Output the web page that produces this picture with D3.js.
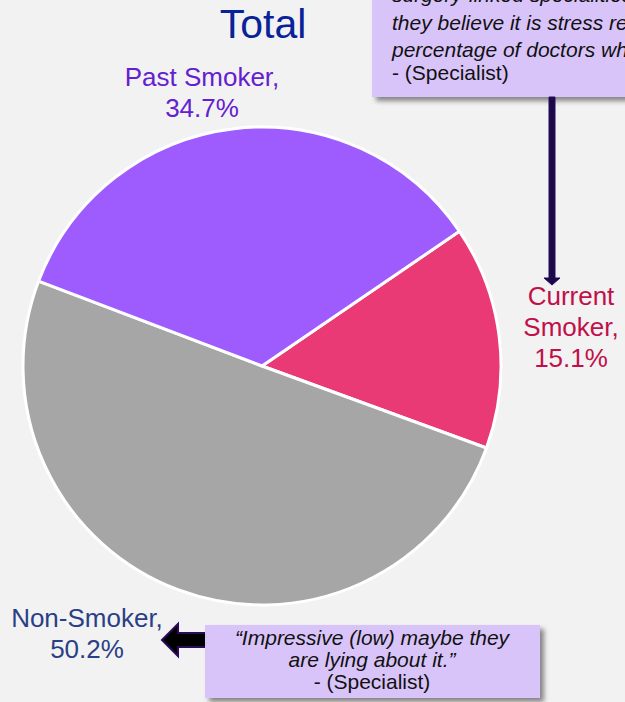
<!DOCTYPE html>
<html>
<head>
<meta charset="utf-8">
<script src="https://cdn.jsdelivr.net/npm/d3@7"></script>
<style>
  html, body { margin: 0; padding: 0; background: #f2f2f2; }
  svg { display: block; font-family: "Liberation Sans", Arial, sans-serif; }
</style>
</head>
<body>
<script>
// data
const categories = ['Current Smoker', 'Non-Smoker', 'Past Smoker']
const values = [15.1, 50.2, 34.7]
const sliceColors = ['#e93a75', '#a6a6a6', '#9e5cff']
const labelColors = ['#c0104a', '#2b3f86', '#6420d0']
const title = 'Total'
const quoteTop = [
  'surgery-linked specialities smoke more as',
  'they believe it is stress related. A high',
  'percentage of doctors who smoke.'
]
const quoteBottom = ['\u201cImpressive (low) maybe they', 'are lying about it.\u201d']
const source = '- (Specialist)'

const width = 625
const height = 702
const cx = 262
const cy = 366
const radius = 239
const startDeg = 55.7

const svg = d3.select('body').append('svg')
  .attr('width', width)
  .attr('height', height)

const defs = svg.append('defs')
const shadow = defs.append('filter').attr('id', 'shadow')
  .attr('x', '-10%').attr('y', '-10%').attr('width', '130%').attr('height', '140%')
shadow.append('feDropShadow')
  .attr('dx', 4).attr('dy', 4).attr('stdDeviation', 2.5)
  .attr('flood-color', '#000').attr('flood-opacity', 0.45)

svg.append('rect').attr('width', width).attr('height', height).attr('fill', '#f2f2f2')

// pie
const a0 = startDeg * Math.PI / 180
const pie = d3.pie().sort(null).value(d => d)
  .startAngle(a0).endAngle(a0 + 2 * Math.PI)
const arc = d3.arc().innerRadius(0).outerRadius(radius)

const g = svg.append('g').attr('transform', 'translate(' + cx + ',' + cy + ')')
g.selectAll('path')
  .data(pie(values))
  .enter().append('path')
    .attr('d', arc)
    .attr('fill', (d, i) => sliceColors[i])
    .attr('stroke', '#fff')
    .attr('stroke-width', 3)
    .attr('stroke-linejoin', 'round')

// title
svg.append('text')
  .attr('x', 263).attr('y', 38)
  .attr('text-anchor', 'middle')
  .attr('font-size', 41)
  .attr('fill', '#0a2299')
  .text(title)

// slice labels
const labelPos = [
  { x: 571, y: 305, lines: ['Current', 'Smoker,'] },
  { x: 87, y: 627, lines: ['Non-Smoker,'] },
  { x: 202, y: 86, lines: ['Past Smoker,'] }
]
labelPos.forEach((p, i) => {
  const t = svg.append('text')
    .attr('text-anchor', 'middle')
    .attr('font-size', 26)
    .attr('fill', labelColors[i])
  const lines = p.lines.concat([d3.format('.1f')(values[i]) + '%'])
  lines.forEach((s, k) => {
    t.append('tspan').attr('x', p.x).attr('y', p.y + k * 31).text(s)
  })
})

// top-right callout
const boxTop = svg.append('g')
boxTop.append('rect')
  .attr('x', 372).attr('y', -10).attr('width', 270).attr('height', 107)
  .attr('fill', '#d9c4fa')
  .attr('filter', 'url(#shadow)')
quoteTop.forEach((s, k) => {
  boxTop.append('text')
    .attr('x', 392).attr('y', 2 + k * 27.5)
    .attr('font-size', 21)
    .attr('font-style', 'italic')
    .attr('fill', '#111')
    .text(s)
})
boxTop.append('text')
  .attr('x', 392).attr('y', 80)
  .attr('font-size', 21)
  .attr('fill', '#111')
  .text(source)

// down arrow
svg.append('path')
  .attr('d', 'M549,97 L555,97 L555,278 L560,278 L552,285 L544,278 L549,278 Z')
  .attr('fill', '#1a0a4a')
  .attr('stroke', '#2b0a5a')
  .attr('stroke-width', 1)

// left arrow
svg.append('path')
  .attr('d', 'M162,640 L178,624 L178,633 L210,633 L210,647 L178,647 L178,656 Z')
  .attr('fill', '#000')
  .attr('stroke', '#2b0a5a')
  .attr('stroke-width', 2)
  .attr('stroke-linejoin', 'miter')

// bottom callout
const boxBot = svg.append('g')
boxBot.append('rect')
  .attr('x', 205).attr('y', 625).attr('width', 335).attr('height', 73)
  .attr('fill', '#d9c4fa')
  .attr('filter', 'url(#shadow)')
quoteBottom.forEach((s, k) => {
  boxBot.append('text')
    .attr('x', 372).attr('y', 645 + k * 22)
    .attr('text-anchor', 'middle')
    .attr('font-size', 21)
    .attr('font-style', 'italic')
    .attr('fill', '#111')
    .text(s)
})
boxBot.append('text')
  .attr('x', 372).attr('y', 689)
  .attr('text-anchor', 'middle')
  .attr('font-size', 21)
  .attr('fill', '#111')
  .text(source)
</script>
</body>
</html>
